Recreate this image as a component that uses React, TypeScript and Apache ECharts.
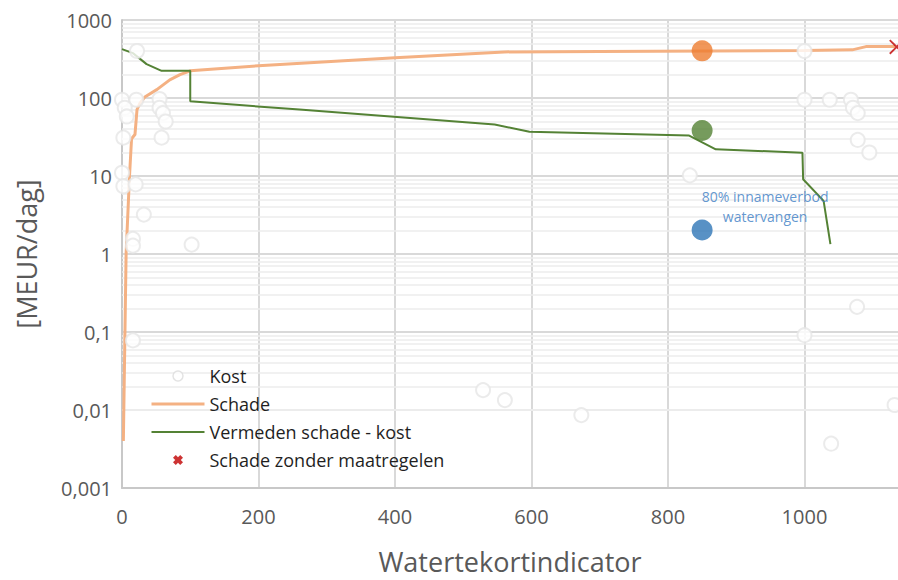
import React, { useEffect, useRef } from 'react';
import * as echarts from 'echarts';

// ---- data ----
const schadeX = [2, 6, 11, 14, 19, 22, 26, 34, 51, 70, 85, 100, 200, 400, 560, 700, 1000, 1070, 1090, 1133];
const schadeY = [0.004, 1.0, 10, 30, 34, 71, 85, 104, 128, 171, 199, 223, 259, 327, 390, 395, 405, 414, 456, 456];

const vermedenX = [0, 16, 36, 58, 100, 100, 260, 546, 597, 831, 870, 997, 998, 1028, 1038];
const vermedenY = [423, 376, 272, 223, 223, 90.6, 71, 45.7, 37, 33, 22, 19.9, 9.1, 4.8, 1.34];

const kostX = [22, 0, 21, 55, 4, 55, 7, 60, 64, 2, 58, 0, 2, 20, 32, 16, 16, 102, 16,
  1000, 1000, 1037, 1068, 1071, 1078, 1078, 1095, 832, 1077, 1000, 1132, 1039, 529, 561, 673];
const kostY = [400, 95, 95, 97, 75, 75, 58, 64, 50, 31, 31, 11, 7.4, 7.8, 3.2, 1.56, 1.28, 1.32, 0.078,
  400, 95, 95, 95, 75, 64, 29, 20, 10.2, 0.21, 0.091, 0.0116, 0.0037, 0.018, 0.0134, 0.0086];

const zonderX = [1135];
const zonderY = [452];

const dotX = [850, 850, 850];
const dotY = [403, 38.3, 2.03];
const dotColors = ['#ED7D31', '#548235', '#2E75B6'];
const dotLabel = '80% innameverbod\nwatervangen';

const xTicks = { min: 0, max: 1137, interval: 200 };
const yRange = { min: 0.001, max: 1000 };

const seriesNames = ['Kost', 'Schade', 'Vermeden schade - kost', 'Schade zonder maatregelen'];
const xAxisTitle = 'Watertekortindicator';
const yAxisTitle = '[MEUR/dag]';

const X_PATH = 'path://M0,1.2L1.2,0L7,5.8L12.8,0L14,1.2L8.2,7L14,12.8L12.8,14L7,8.2L1.2,14L0,12.8L5.8,7Z';
const X_LEGEND = 'path://M0,2.8L2.8,0L5,2.2L7.2,0L10,2.8L7.8,5L10,7.2L7.2,10L5,7.8L2.8,10L0,7.2L2.2,5Z';

const FONT = 'Open Sans';
const GRAY = '#595959';

export default function App() {
  const ref = useRef<HTMLDivElement>(null);

  useEffect(() => {
    const chart = echarts.init(ref.current!, null, { renderer: 'svg' });
    const zip = (xs: number[], ys: number[]) => xs.map((x, i) => [x, ys[i]]);

    const minorValues: number[] = [];
    for (let k = -3; k < 3; k++) {
      for (let m = 2; m <= 9; m++) minorValues.push(Number((m * Math.pow(10, k)).toPrecision(3)));
    }

    chart.setOption({
      animation: false,
      backgroundColor: '#ffffff',
      textStyle: { fontFamily: FONT },
      grid: { left: 122, right: 0, top: 20, bottom: 90 },
      xAxis: {
        type: 'value',
        min: xTicks.min,
        max: xTicks.max,
        interval: xTicks.interval,
        name: xAxisTitle,
        nameLocation: 'middle',
        nameGap: 60,
        nameTextStyle: { fontSize: 27, color: GRAY, fontFamily: FONT },
        axisLine: { show: true, lineStyle: { color: '#c8c8c8', width: 2 } },
        axisTick: { show: false },
        axisLabel: {
          fontSize: 20,
          color: GRAY,
          fontFamily: FONT,
          margin: 18,
          showMaxLabel: false,
          formatter: (v: number) => String(v),
        },
        splitLine: { show: true, showMaxLine: false, lineStyle: { color: '#d9d9d9', width: 2 } },
      },
      yAxis: {
        type: 'log',
        logBase: 10,
        min: yRange.min,
        max: yRange.max,
        splitNumber: 6,
        name: yAxisTitle,
        nameLocation: 'middle',
        nameRotate: 90,
        nameGap: 82,
        nameTextStyle: { fontSize: 27, color: GRAY, fontFamily: FONT },
        axisLine: { show: true, lineStyle: { color: '#c8c8c8', width: 2 } },
        axisTick: { show: false },
        axisLabel: {
          fontSize: 20,
          color: GRAY,
          fontFamily: FONT,
          margin: 10,
          formatter: (v: number) => String(Number(v.toPrecision(6))).replace('.', ','),
        },
        splitLine: { show: true, lineStyle: { color: '#d9d9d9', width: 2 } },
      },
      legend: {
        orient: 'vertical',
        left: 145,
        top: 362,
        itemWidth: 53,
        itemHeight: 10,
        itemGap: 10,
        selectedMode: false,
        textStyle: { fontSize: 18, color: '#1f1f1f', fontFamily: FONT },
        data: [
          { name: seriesNames[0], icon: 'circle', itemStyle: { color: '#ffffff', borderColor: '#dcdcdc', borderWidth: 1.5 } },
          { name: seriesNames[1], icon: 'inherit', itemStyle: { opacity: 0 }, lineStyle: { width: 3, color: '#F4B183' } },
          { name: seriesNames[2], icon: 'inherit', itemStyle: { opacity: 0 }, lineStyle: { width: 2, color: '#548235' } },
          { name: seriesNames[3], icon: X_LEGEND, itemStyle: { color: '#C00000' } },
        ],
      },
      series: [
        {
          name: 'minor-grid',
          type: 'line',
          data: [],
          silent: true,
          markLine: {
            silent: true,
            z: 1,
            symbol: ['none', 'none'],
            label: { show: false },
            lineStyle: { color: '#ededed', width: 1.5, type: 'solid' },
            emphasis: { disabled: true },
            data: minorValues.map((v) => ({ yAxis: v })),
          },
        },
        {
          name: seriesNames[1],
          type: 'line',
          z: 3,
          symbol: 'none',
          lineStyle: { color: '#F4B183', width: 3 },
          itemStyle: { color: '#F4B183' },
          data: zip(schadeX, schadeY),
        },
        {
          name: seriesNames[2],
          type: 'line',
          z: 3,
          symbol: 'none',
          lineStyle: { color: '#548235', width: 2 },
          itemStyle: { color: '#548235' },
          data: zip(vermedenX, vermedenY),
        },
        {
          name: seriesNames[0],
          type: 'scatter',
          z: 4,
          symbol: 'circle',
          symbolSize: 14,
          itemStyle: { color: '#ffffff', borderColor: '#e6e6e6', borderWidth: 2 },
          data: zip(kostX, kostY),
        },
        {
          name: seriesNames[3],
          type: 'scatter',
          z: 6,
          symbol: X_PATH,
          symbolSize: 15,
          itemStyle: { color: '#C00000' },
          data: zip(zonderX, zonderY),
        },
        {
          name: 'punten',
          type: 'scatter',
          z: 6,
          symbol: 'circle',
          symbolSize: 21,
          data: dotX.map((x, i) => ({
            value: [x, dotY[i]],
            itemStyle: { color: dotColors[i] },
            label:
              i === 2
                ? {
                    show: true,
                    formatter: dotLabel,
                    position: 'inside',
                    offset: [63, -24],
                    align: 'center',
                    verticalAlign: 'middle',
                    fontSize: 14,
                    lineHeight: 20,
                    color: '#3A7CC4',
                    fontFamily: FONT,
                  }
                : { show: false },
          })),
        },
      ],
    });

    return () => chart.dispose();
  }, []);

  return (
    <div
      ref={ref}
      style={{ position: 'absolute', left: 0, top: 0, width: 898, height: 580, background: '#fff' }}
    />
  );
}
